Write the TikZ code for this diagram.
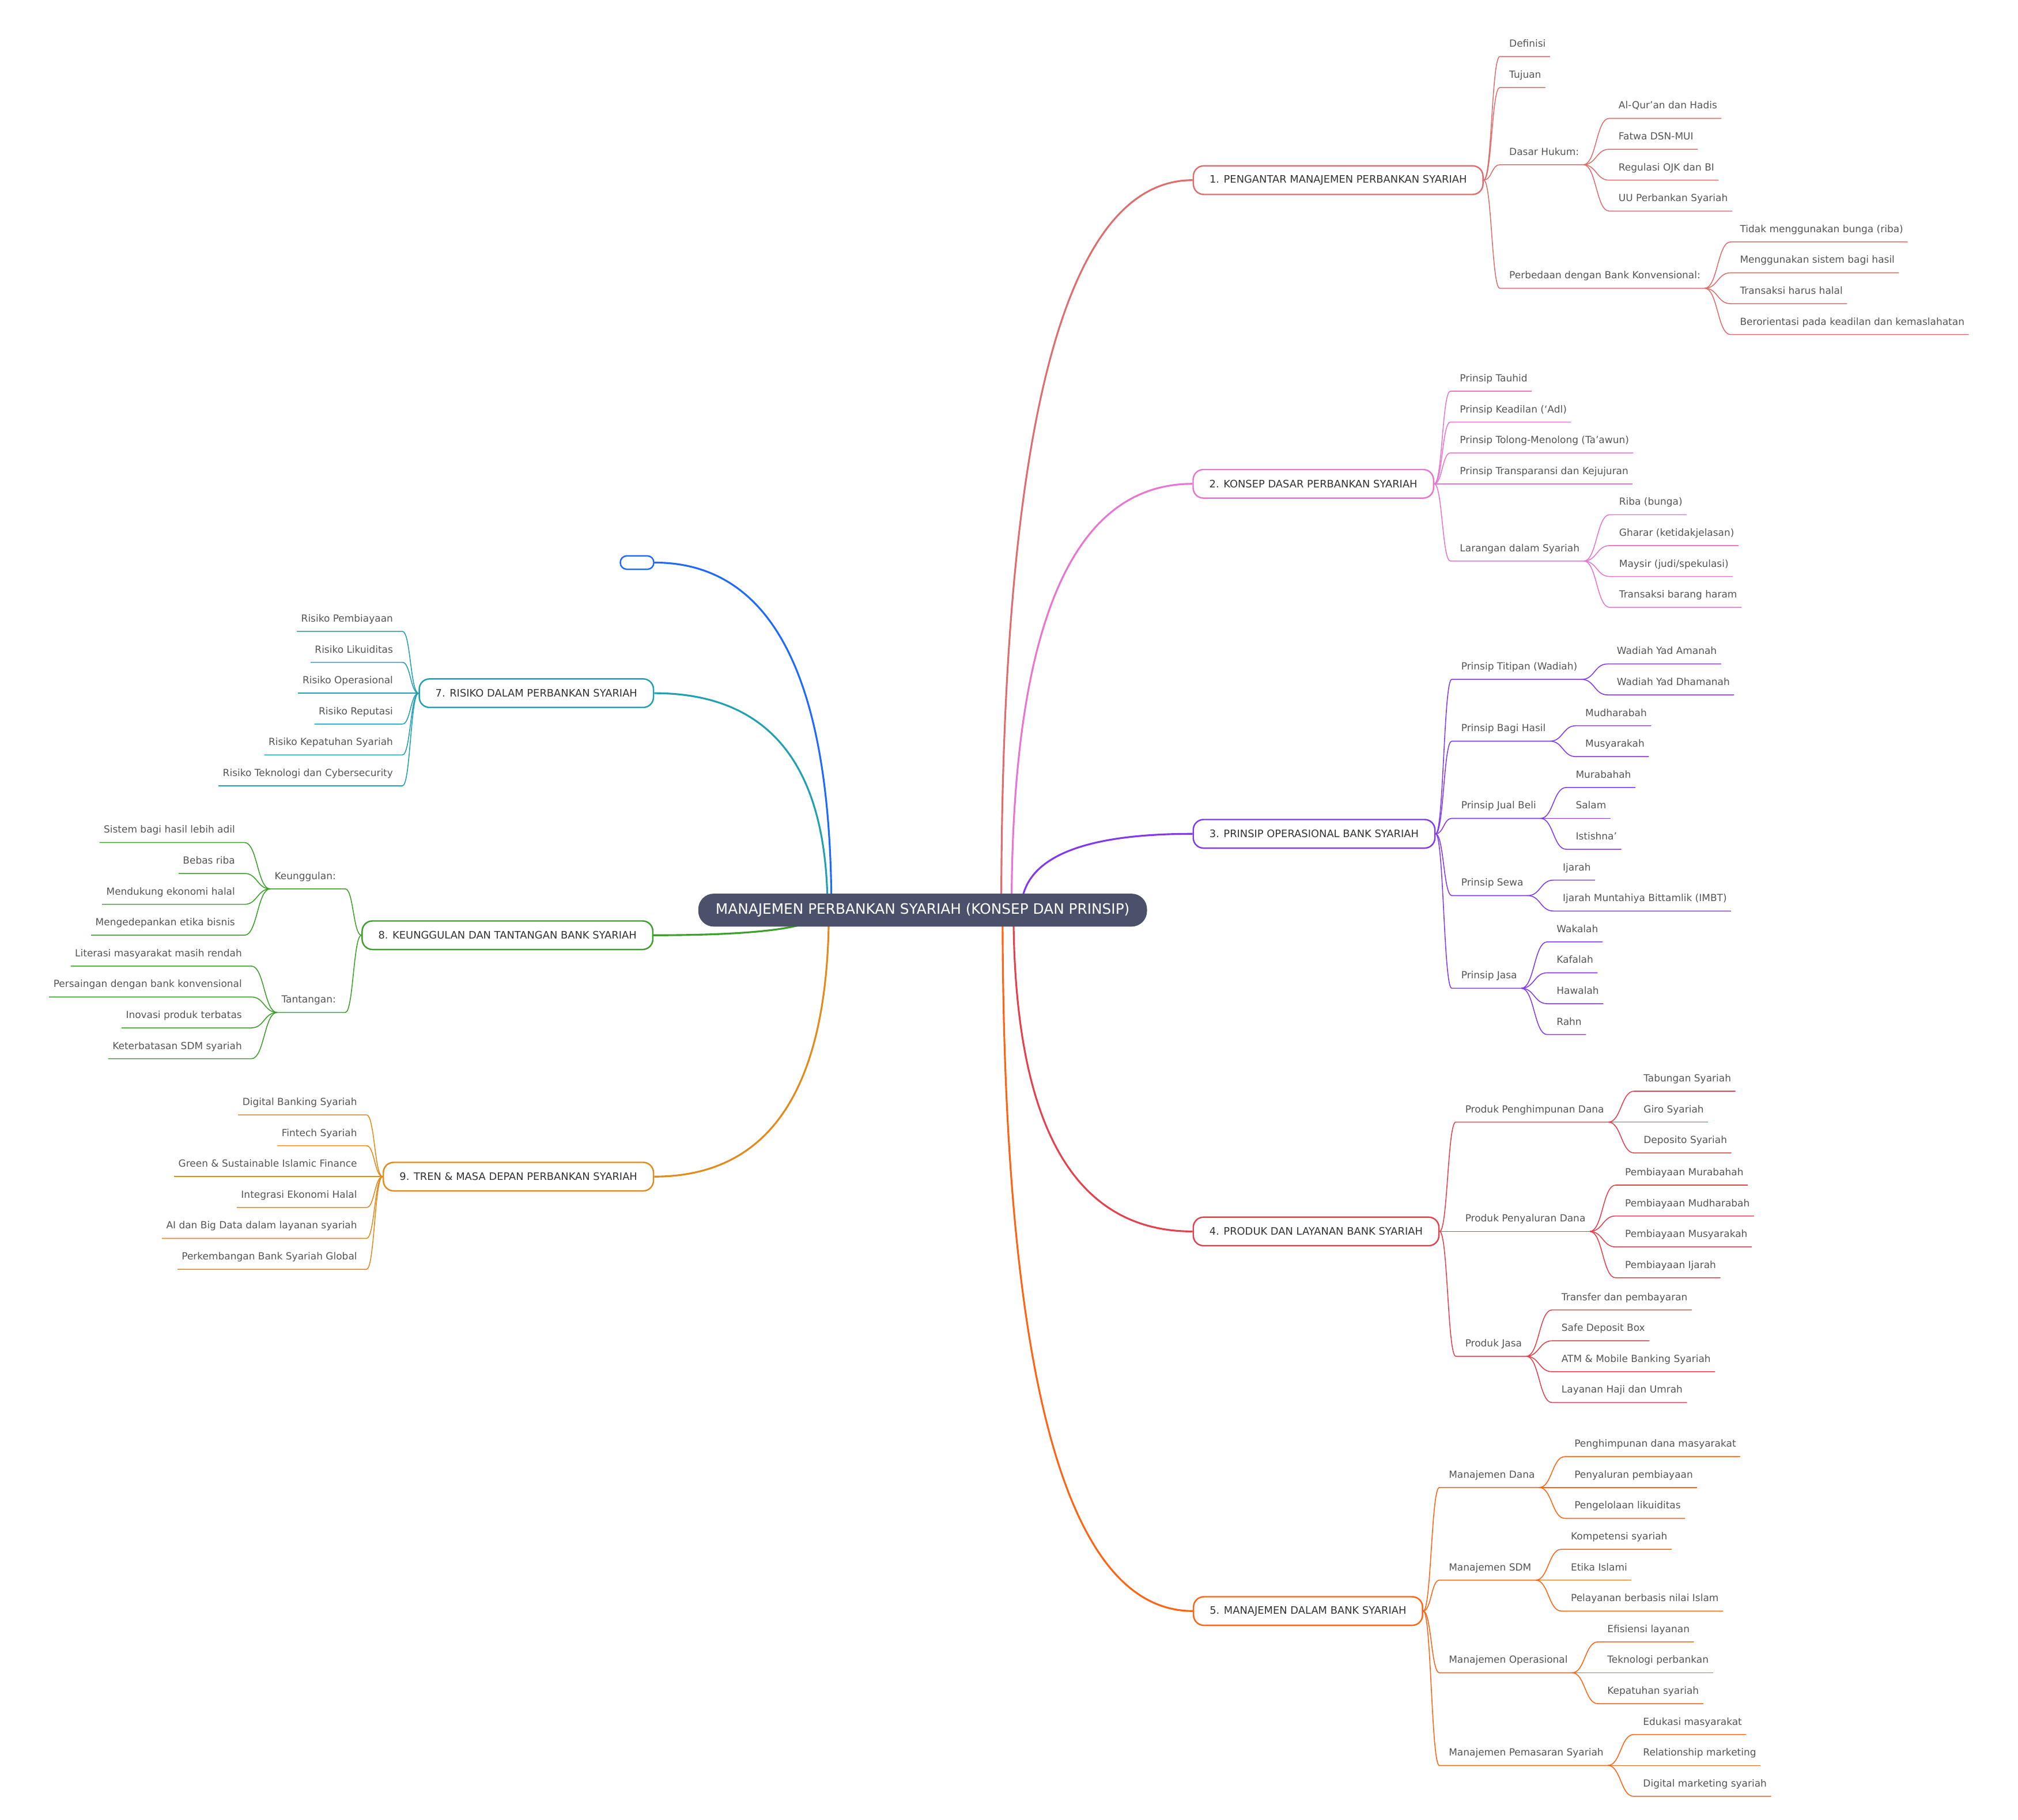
\documentclass[tikz,border=0pt]{standalone}
\usepackage{fontspec}
\setmainfont{DejaVu Sans}
\usepackage{tikz}
\usetikzlibrary{calc}
\definecolor{rootfill}{RGB}{76,81,107}
\definecolor{ink}{RGB}{84,84,84}
\definecolor{boxink}{RGB}{51,51,51}
\definecolor{pengantar}{RGB}{222,110,110}
\definecolor{konsep}{RGB}{232,118,208}
\definecolor{prinsip}{RGB}{130,56,240}
\definecolor{produk}{RGB}{228,64,78}
\definecolor{manajemen}{RGB}{255,100,20}
\definecolor{kosong}{RGB}{30,105,255}
\definecolor{risiko}{RGB}{32,160,176}
\definecolor{unggul}{RGB}{58,160,40}
\definecolor{tren}{RGB}{226,138,28}
\newcommand{\itemfont}{\fontsize{3.8pt}{4.6pt}\selectfont}
\newcommand{\boxfont}{\fontsize{4pt}{4.8pt}\selectfont}
\newcommand{\rootfont}{\fontsize{5.55pt}{6.6pt}\selectfont}
% Aeste: Bogen vom Elternknoten zur Unterlinie des Kindknotens
\newcommand{\rlink}[3]{\draw[#1, astlinie] let \p1=(#2), \p2=([xshift=-2pt]#3.south west) in (\p1) .. controls ({(\x1+\x2)/2},\y1) and ({(\x1+\x2)/2},\y2) .. (\p2) -- (#3.south east)}
\newcommand{\llink}[3]{\draw[#1, astlinie] let \p1=(#2), \p2=([xshift=2pt]#3.south east) in (\p1) .. controls ({(\x1+\x2)/2},\y1) and ({(\x1+\x2)/2},\y2) .. (\p2) -- (#3.south west)}
\newcommand{\mainlink}[3]{\draw[#1, hauptlinie] let \p1=(#2), \p2=(#3) in (\p1) .. controls (\x1,{\y1+2/3*(\y2-\y1)}) and ({\x2+2/3*(\x1-\x2)},\y2) .. (\p2)}

\begin{document}
\begin{tikzpicture}[x=0.5pt, y=-0.5pt,
		box/.style={draw=#1, fill=white, line width=.55pt, rounded corners=4pt, minimum height=11.1pt, inner xsep=6.3pt, inner ysep=0pt, font=\boxfont, text=boxink},
		item/.style={font=\itemfont, text=ink, inner xsep=1.5pt, inner ysep=3.5pt, text depth=0pt},
		ritem/.style={item, anchor=south west},
		litem/.style={item, anchor=south east},
		hauptlinie/.style={line width=.7pt},
		astlinie/.style={line width=.35pt}]
				\useasboundingbox (0,0) rectangle (1568,1414);
				\coordinate (hub) at (716.9,707.3);
				% 1. Pengantar
				\node[box=pengantar, anchor=west] (b1) at (926.7,140) {1. PENGANTAR MANAJEMEN PERBANKAN SYARIAH};
				\node[ritem] (b1a) at ($(b1.east)+(16.5,-96)$) {Definisi};
				\node[ritem] (b1b) at ($(b1.east)+(16.5,-72)$) {Tujuan};
				\node[ritem] (b1c) at ($(b1.east)+(16.5,-12)$) {Dasar Hukum:};
				\node[ritem] (b1d) at ($(b1.east)+(16.5,84)$) {Perbedaan dengan Bank Konvensional:};
				\foreach \k in {a,b,c,d} \rlink{pengantar}{b1.east}{b1\k};
				\foreach \t [count=\i] in {Al-Qur’an dan Hadis, Fatwa DSN-MUI, Regulasi OJK dan BI, UU Perbankan Syariah}{
					\node[ritem] (b1c\i) at ($(b1c.south east)+(24,{(\i-2.5)*24})$) {\t};
					\rlink{pengantar}{b1c.south east}{b1c\i};
				}
				\foreach \t [count=\i] in {Tidak menggunakan bunga (riba), Menggunakan sistem bagi hasil, Transaksi harus halal, Berorientasi pada keadilan dan kemaslahatan}{
					\node[ritem] (b1d\i) at ($(b1d.south east)+(24,{(\i-2.5)*24})$) {\t};
					\rlink{pengantar}{b1d.south east}{b1d\i};
				}
				% 2. Konsep dasar
				\node[box=konsep, anchor=west] (b2) at (926.5,376) {2. KONSEP DASAR PERBANKAN SYARIAH};
				\node[ritem] (b2a) at ($(b2.east)+(16.5,-72)$) {Prinsip Tauhid};
				\node[ritem] (b2b) at ($(b2.east)+(16.5,-48)$) {Prinsip Keadilan (‘Adl)};
				\node[ritem] (b2c) at ($(b2.east)+(16.5,-24)$) {Prinsip Tolong-Menolong (Ta’awun)};
				\node[ritem] (b2d) at ($(b2.east)+(16.5,0)$) {Prinsip Transparansi dan Kejujuran};
				\node[ritem] (b2e) at ($(b2.east)+(16.5,60)$) {Larangan dalam Syariah};
				\foreach \k in {a,b,c,d,e} \rlink{konsep}{b2.east}{b2\k};
				\foreach \t [count=\i] in {Riba (bunga), Gharar (ketidakjelasan), Maysir (judi/spekulasi), Transaksi barang haram}{
					\node[ritem] (b2e\i) at ($(b2e.south east)+(24,{(\i-2.5)*24})$) {\t};
					\rlink{konsep}{b2e.south east}{b2e\i};
				}
				% 3. Prinsip operasional
				\node[box=prinsip, anchor=west] (b3) at (926.6,648) {3. PRINSIP OPERASIONAL BANK SYARIAH};
				\node[ritem] (b3a) at ($(b3.east)+(16.5,-120)$) {Prinsip Titipan (Wadiah)};
				\node[ritem] (b3b) at ($(b3.east)+(16.5,-72)$) {Prinsip Bagi Hasil};
				\node[ritem] (b3c) at ($(b3.east)+(16.5,-12)$) {Prinsip Jual Beli};
				\node[ritem] (b3d) at ($(b3.east)+(16.5,48)$) {Prinsip Sewa};
				\node[ritem] (b3e) at ($(b3.east)+(16.5,120)$) {Prinsip Jasa};
				\foreach \k in {a,b,c,d,e} \rlink{prinsip}{b3.east}{b3\k};
				\foreach \t [count=\i] in {Wadiah Yad Amanah, Wadiah Yad Dhamanah}{
					\node[ritem] (b3a\i) at ($(b3a.south east)+(24,{(\i-1.5)*24})$) {\t};
					\rlink{prinsip}{b3a.south east}{b3a\i};
				}
				\foreach \t [count=\i] in {Mudharabah, Musyarakah}{
					\node[ritem] (b3b\i) at ($(b3b.south east)+(24,{(\i-1.5)*24})$) {\t};
					\rlink{prinsip}{b3b.south east}{b3b\i};
				}
				\foreach \t [count=\i] in {Murabahah, Salam, Istishna’}{
					\node[ritem] (b3c\i) at ($(b3c.south east)+(24,{(\i-2)*24})$) {\t};
					\rlink{prinsip}{b3c.south east}{b3c\i};
				}
				\foreach \t [count=\i] in {Ijarah, Ijarah Muntahiya Bittamlik (IMBT)}{
					\node[ritem] (b3d\i) at ($(b3d.south east)+(24,{(\i-1.5)*24})$) {\t};
					\rlink{prinsip}{b3d.south east}{b3d\i};
				}
				\foreach \t [count=\i] in {Wakalah, Kafalah, Hawalah, Rahn}{
					\node[ritem] (b3e\i) at ($(b3e.south east)+(24,{(\i-2.5)*24})$) {\t};
					\rlink{prinsip}{b3e.south east}{b3e\i};
				}
				% 4. Produk dan layanan
				\node[box=produk, anchor=west] (b4) at (926.6,957) {4. PRODUK DAN LAYANAN BANK SYARIAH};
				\node[ritem] (b4a) at ($(b4.east)+(16.5,-85)$) {Produk Penghimpunan Dana};
				\node[ritem] (b4b) at ($(b4.east)+(16.5,0)$) {Produk Penyaluran Dana};
				\node[ritem] (b4c) at ($(b4.east)+(16.5,97)$) {Produk Jasa};
				\foreach \k in {a,b,c} \rlink{produk}{b4.east}{b4\k};
				\foreach \t [count=\i] in {Tabungan Syariah, Giro Syariah, Deposito Syariah}{
					\node[ritem] (b4a\i) at ($(b4a.south east)+(24,{(\i-2)*24})$) {\t};
					\rlink{produk}{b4a.south east}{b4a\i};
				}
				\foreach \t [count=\i] in {Pembiayaan Murabahah, Pembiayaan Mudharabah, Pembiayaan Musyarakah, Pembiayaan Ijarah}{
					\node[ritem] (b4b\i) at ($(b4b.south east)+(24,{(\i-2.5)*24})$) {\t};
					\rlink{produk}{b4b.south east}{b4b\i};
				}
				\foreach \t [count=\i] in {Transfer dan pembayaran, Safe Deposit Box, ATM \& Mobile Banking Syariah, Layanan Haji dan Umrah}{
					\node[ritem] (b4c\i) at ($(b4c.south east)+(24,{(\i-2.5)*24})$) {\t};
					\rlink{produk}{b4c.south east}{b4c\i};
				}
				% 5. Manajemen
				\node[box=manajemen, anchor=west] (b5) at (926.8,1252) {5. MANAJEMEN DALAM BANK SYARIAH};
				\node[ritem] (b5a) at ($(b5.east)+(16.5,-96)$) {Manajemen Dana};
				\node[ritem] (b5b) at ($(b5.east)+(16.5,-24)$) {Manajemen SDM};
				\node[ritem] (b5c) at ($(b5.east)+(16.5,48)$) {Manajemen Operasional};
				\node[ritem] (b5d) at ($(b5.east)+(16.5,120)$) {Manajemen Pemasaran Syariah};
				\foreach \k in {a,b,c,d} \rlink{manajemen}{b5.east}{b5\k};
				\foreach \t [count=\i] in {Penghimpunan dana masyarakat, Penyaluran pembiayaan, Pengelolaan likuiditas}{
					\node[ritem] (b5a\i) at ($(b5a.south east)+(24,{(\i-2)*24})$) {\t};
					\rlink{manajemen}{b5a.south east}{b5a\i};
				}
				\foreach \t [count=\i] in {Kompetensi syariah, Etika Islami, Pelayanan berbasis nilai Islam}{
					\node[ritem] (b5b\i) at ($(b5b.south east)+(24,{(\i-2)*24})$) {\t};
					\rlink{manajemen}{b5b.south east}{b5b\i};
				}
				\foreach \t [count=\i] in {Efisiensi layanan, Teknologi perbankan, Kepatuhan syariah}{
					\node[ritem] (b5c\i) at ($(b5c.south east)+(24,{(\i-2)*24})$) {\t};
					\rlink{manajemen}{b5c.south east}{b5c\i};
				}
				\foreach \t [count=\i] in {Edukasi masyarakat, Relationship marketing, Digital marketing syariah}{
					\node[ritem] (b5d\i) at ($(b5d.south east)+(24,{(\i-2)*24})$) {\t};
					\rlink{manajemen}{b5d.south east}{b5d\i};
				}
				% leerer Knoten
				\node[draw=kosong, fill=white, line width=.55pt, rounded corners=2.5pt, minimum width=13pt, minimum height=5.2pt, inner sep=0pt] (b6) at (495,437.2) {};
				% 7. Risiko
				\node[box=risiko, anchor=east] (b7) at (508.3,538.7) {7. RISIKO DALAM PERBANKAN SYARIAH};
				\foreach \t [count=\i] in {Risiko Pembiayaan, Risiko Likuiditas, Risiko Operasional, Risiko Reputasi, Risiko Kepatuhan Syariah, Risiko Teknologi dan Cybersecurity}{
					\node[litem] (b7\i) at ($(b7.west)+(-16.5,{(\i-3)*24})$) {\t};
					\llink{risiko}{b7.west}{b7\i};
				}
				% 8. Keunggulan dan tantangan
				\node[box=unggul, anchor=east] (b8) at (507.8,726.8) {8. KEUNGGULAN DAN TANTANGAN BANK SYARIAH};
				\node[litem] (b8a) at ($(b8.west)+(-16.5,-36)$) {Keunggulan:};
				\node[litem] (b8b) at ($(b8.west)+(-16.5,60)$) {Tantangan:};
				\foreach \k in {a,b} \llink{unggul}{b8.west}{b8\k};
				\foreach \t [count=\i] in {Sistem bagi hasil lebih adil, Bebas riba, Mendukung ekonomi halal, Mengedepankan etika bisnis}{
					\node[litem] (b8a\i) at ($(b8a.south west)+(-24,{(\i-2.5)*24})$) {\t};
					\llink{unggul}{b8a.south west}{b8a\i};
				}
				\foreach \t [count=\i] in {Literasi masyarakat masih rendah, Persaingan dengan bank konvensional, Inovasi produk terbatas, Keterbatasan SDM syariah}{
					\node[litem] (b8b\i) at ($(b8b.south west)+(-24,{(\i-2.5)*24})$) {\t};
					\llink{unggul}{b8b.south west}{b8b\i};
				}
				% 9. Tren
				\node[box=tren, anchor=east] (b9) at (508.3,914.4) {9. TREN \& MASA DEPAN PERBANKAN SYARIAH};
				\foreach \t [count=\i] in {Digital Banking Syariah, Fintech Syariah, Green \& Sustainable Islamic Finance, Integrasi Ekonomi Halal, AI dan Big Data dalam layanan syariah, Perkembangan Bank Syariah Global}{
					\node[litem] (b9\i) at ($(b9.west)+(-16.5,{(\i-3)*24})$) {\t};
					\llink{tren}{b9.west}{b9\i};
				}
				% Hauptzweige
				\mainlink{pengantar}{$(hub)+(61.1,0)$}{b1.west};
				\mainlink{konsep}{$(hub)+(69.1,0)$}{b2.west};
				\mainlink{prinsip}{$(hub)+(76.6,0)$}{b3.west};
				\mainlink{produk}{$(hub)+(70.6,0)$}{b4.west};
				\mainlink{manajemen}{$(hub)+(62.1,0)$}{b5.west};
				\mainlink{kosong}{$(hub)+(-70.9,0)$}{b6.east};
				\mainlink{risiko}{$(hub)+(-73.9,0)$}{b7.east};
				\mainlink{unggul}{$(hub)+(-78.4,0)$}{b8.east};
				\mainlink{tren}{$(hub)+(-72.9,0)$}{b9.east};
				% Wurzel
				\node[fill=rootfill, text=white, font=\rootfont, rounded corners=6pt, minimum height=12.8pt, inner xsep=6.75pt, inner ysep=0pt] (root) at (hub) {MANAJEMEN PERBANKAN SYARIAH (KONSEP DAN PRINSIP)};
\end{tikzpicture}
\end{document}
